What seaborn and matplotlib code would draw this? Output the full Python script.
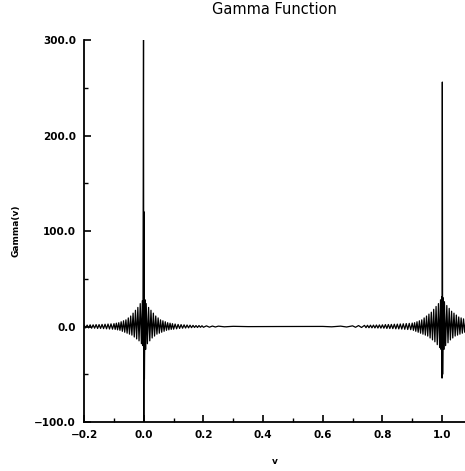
import matplotlib
matplotlib.use("Agg")
import matplotlib.pyplot as plt
from matplotlib.ticker import MultipleLocator, FuncFormatter
import pandas as pd
import seaborn as sns

# values (v, Gamma(v))
v_left = [-0.200, -0.195, -0.190, -0.185, -0.180, -0.175, -0.170, -0.165, -0.160, -0.155,
          -0.150, -0.145, -0.140, -0.135, -0.130, -0.125, -0.120, -0.115, -0.110, -0.105,
          -0.100, -0.096, -0.092, -0.088, -0.084, -0.080, -0.076, -0.072, -0.068, -0.064,
          -0.060, -0.056, -0.052, -0.048, -0.044, -0.040, -0.036, -0.032, -0.028, -0.024,
          -0.020, -0.016, -0.012, -0.008, -0.005, -0.003, -0.001]
g_left = [1.5, -1.5, 1.5, -1.5, 1.8, -1.8, 1.8, -1.8, 2.0, -2.0,
          2.0, -2.0, 2.2, -2.2, 2.4, -2.4, 2.6, -2.6, 2.8, -2.8,
          3.0, -3.0, 3.5, -3.5, 4.0, -4.0, 5.0, -5.0, 6.0, -6.0,
          7.0, -7.0, 9.0, -8.0, 11.0, -9.0, 14.0, -11.0, 17.0, -13.0,
          20.0, -15.0, 24.0, -18.0, 27.0, -20.0, 300.0]

v_zero = [0.000, 0.001, 0.002, 0.004, 0.006, 0.008, 0.012, 0.016, 0.020, 0.024,
          0.028, 0.032, 0.036, 0.040, 0.044, 0.048, 0.052, 0.056, 0.060, 0.064,
          0.068, 0.072, 0.076, 0.080, 0.084, 0.088, 0.092, 0.096, 0.100, 0.105,
          0.110, 0.115, 0.120, 0.125, 0.130, 0.135, 0.140, 0.145, 0.150, 0.155,
          0.160, 0.165, 0.170, 0.175, 0.180, 0.185, 0.190, 0.195, 0.200]
g_zero = [-100.0, 120.0, -55.0, 28.0, -24.0, 24.0, -18.0, 20.0, -15.0, 17.0,
          -12.0, 14.0, -10.0, 11.0, -8.0, 9.0, -7.0, 7.0, -6.0, 6.0,
          -5.0, 5.0, -4.0, 4.0, -3.5, 3.5, -3.0, 3.0, -2.8, 2.6,
          -2.4, 2.2, -2.0, 2.0, -1.8, 1.8, -1.6, 1.6, -1.4, 1.4,
          -1.2, 1.2, -1.0, 1.0, -1.0, 1.0, -0.8, 0.8, -0.8]

v_mid = [0.21, 0.22, 0.23, 0.24, 0.25, 0.27, 0.30, 0.35, 0.40, 0.45,
         0.50, 0.55, 0.60, 0.63, 0.66, 0.68, 0.70, 0.71, 0.72, 0.73,
         0.74, 0.745, 0.750, 0.755, 0.760, 0.765, 0.770, 0.775, 0.780, 0.785,
         0.790, 0.795, 0.800, 0.805, 0.810, 0.815, 0.820, 0.825, 0.830, 0.835,
         0.840, 0.845, 0.850, 0.855, 0.860, 0.865, 0.870, 0.875, 0.880, 0.885,
         0.890, 0.895, 0.900]
g_mid = [0.7, -0.7, 0.5, -0.5, 0.4, -0.3, 0.2, -0.1, 0.0, 0.0,
         0.0, 0.0, 0.1, -0.3, 0.4, -0.5, 0.7, -0.8, 1.0, -1.0,
         1.2, -1.2, 1.3, -1.3, 1.4, -1.4, 1.5, -1.5, 1.6, -1.6,
         1.7, -1.7, 1.8, -1.8, 2.0, -2.0, 2.1, -2.1, 2.2, -2.2,
         2.4, -2.4, 2.5, -2.5, 2.7, -2.7, 2.9, -2.9, 3.1, -3.1,
         3.3, -3.3, 3.6]

v_one = [0.904, 0.908, 0.912, 0.916, 0.920, 0.924, 0.928, 0.932, 0.936, 0.940,
         0.944, 0.948, 0.952, 0.956, 0.960, 0.964, 0.968, 0.972, 0.976, 0.980,
         0.984, 0.988, 0.992, 0.995, 0.997, 0.999, 1.000, 1.001, 1.002, 1.004,
         1.006, 1.008, 1.012, 1.016, 1.020, 1.024, 1.028, 1.032, 1.036, 1.040,
         1.044, 1.048, 1.052, 1.056, 1.060, 1.064, 1.068, 1.072, 1.076, 1.080]
g_one = [-4.0, 4.0, -5.0, 5.0, -6.0, 6.0, -7.0, 7.0, -8.0, 9.0,
         -9.0, 11.0, -10.0, 13.0, -12.0, 15.0, -14.0, 18.0, -16.0, 21.0,
         -19.0, 24.0, -22.0, 28.0, -24.0, 31.0, -54.0, 256.0, -50.0, 30.0,
         -24.0, 26.0, -20.0, 22.0, -17.0, 19.0, -14.0, 16.0, -12.0, 14.0,
         -10.0, 12.0, -9.0, 10.0, -8.0, 9.0, -7.0, 8.0, -6.0, 7.0]

df = pd.DataFrame({
    "v": v_left + v_zero + v_mid + v_one,
    "gamma": g_left + g_zero + g_mid + g_one,
})

sns.set_style("ticks")
plt.rcParams["font.family"] = ["DejaVu Sans"]
plt.rcParams["text.color"] = "black"
plt.rcParams["axes.labelcolor"] = "black"

fig = plt.figure(figsize=(4.65, 4.71), dpi=100)
ax = fig.add_axes([0.181, 0.104, 0.819, 0.811])

sns.lineplot(data=df, x="v", y="gamma", estimator=None, sort=False,
             color="black", linewidth=0.9, ax=ax)

ax.set_xlim(-0.2, 1.077)
ax.set_ylim(-100, 300)
ax.xaxis.set_major_locator(MultipleLocator(0.2))
ax.xaxis.set_minor_locator(MultipleLocator(0.1))
ax.yaxis.set_major_locator(MultipleLocator(100))
ax.yaxis.set_minor_locator(MultipleLocator(50))
fmt = FuncFormatter(lambda val, pos: f"{val:.1f}".replace("-", "\u2212"))
ax.xaxis.set_major_formatter(fmt)
ax.yaxis.set_major_formatter(fmt)
ax.tick_params(which="major", direction="in", length=5, width=1.2, colors="black",
               labelsize=7.5, pad=6)
ax.tick_params(which="minor", direction="in", length=3, width=1.0, colors="black")
for lab in ax.get_xticklabels() + ax.get_yticklabels():
    lab.set_fontweight("bold")

sns.despine(ax=ax)
for side in ["left", "bottom"]:
    ax.spines[side].set_linewidth(1.3)
    ax.spines[side].set_color("black")

ax.set_title("Gamma Function", fontsize=10.5, pad=19, color="black")
ax.set_xlabel("v", fontsize=6.5, fontweight="bold", labelpad=12)
ax.set_ylabel("Gamma(v)", fontsize=6.5, fontweight="bold", labelpad=10)

fig.savefig("out.png", dpi=100, facecolor="white")
